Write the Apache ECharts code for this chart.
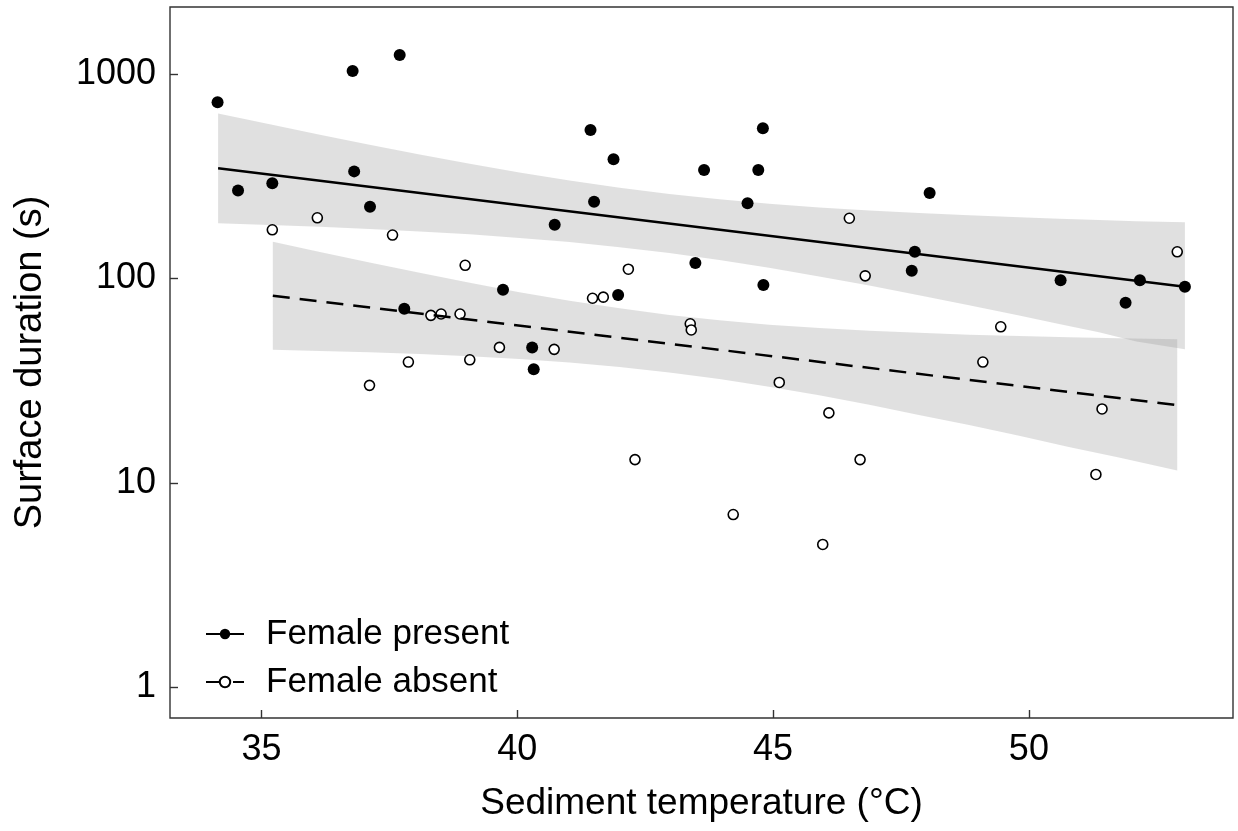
<!DOCTYPE html>
<html><head><meta charset="utf-8">
<script src="https://cdn.jsdelivr.net/npm/echarts@6/dist/echarts.min.js"></script>
<style>html,body{margin:0;padding:0;background:#fff}#chart{width:1238px;height:831px}</style>
</head><body><div id="chart"></div>
<script>
// Tick labels
const xTicks = [35, 40, 45, 50];
const yTicks = [1, 10, 100, 1000];

// Female present (filled points)
const presentX = [34.14, 34.54, 35.21, 36.78, 36.81, 37.12, 37.70, 37.79, 39.72, 40.29, 40.32, 40.73, 41.43, 41.50, 41.88, 41.97, 43.48, 43.65, 44.50, 44.71, 44.80, 44.81, 47.71, 47.77, 48.06, 50.62, 51.89, 52.17, 53.05];
const presentY = [727, 269, 292, 1034, 334, 224, 1239, 71, 88, 46, 36, 183, 532, 237, 383, 83, 119, 339, 233, 339, 543, 93, 109, 135, 262, 98, 76, 98, 91];

// Female absent (open points)
const absentX = [35.21, 36.09, 37.11, 37.56, 37.87, 38.31, 38.51, 38.88, 38.98, 39.07, 39.65, 40.72, 41.47, 41.68, 42.17, 42.30, 43.38, 43.40, 44.22, 45.12, 45.97, 46.09, 46.49, 46.70, 46.80, 49.10, 49.45, 51.31, 51.43, 52.90];
const absentY = [173, 198, 30, 163, 39, 66, 67, 67, 116, 40, 46, 45, 80, 81, 111, 13, 60, 56, 7, 31, 5, 22, 197, 13, 103, 39, 58, 11, 23, 135];

// Fitted lines
const presentFitX = [34.15, 53.05];
const presentFitY = [345.8, 91.1];
const absentFitX = [35.22, 52.90];
const absentFitY = [82.3, 24.0];

// Confidence bands
const presentBandX  = [34.15, 35.16, 36.14, 37.11, 38.09, 39.07, 40.04, 41.02, 42.00, 42.97, 43.95, 44.92, 45.90, 46.88, 47.85, 48.83, 49.81, 50.59, 51.37, 52.10, 53.05];
const presentBandLo = [186.4, 182.8, 178.9, 174.7, 169.8, 164.3, 157.9, 150.7, 142.3, 133.1, 123.1, 112.7, 102.3, 92.3, 82.8, 73.9, 65.9, 59.9, 54.5, 49.1, 45.0];
const presentBandHi = [641.5, 567.3, 505.0, 450.7, 403.9, 363.6, 329.5, 301.0, 277.6, 258.7, 243.8, 231.9, 222.5, 215.0, 208.9, 203.6, 199.3, 196.1, 193.2, 190.4, 188.5];
const absentBandX  = [35.22, 36.14, 37.11, 38.09, 39.07, 40.04, 41.02, 42.00, 42.97, 43.95, 44.92, 45.90, 46.88, 47.85, 48.83, 49.81, 50.78, 51.76, 52.90];
const absentBandLo = [44.8, 44.2, 43.5, 42.7, 41.6, 40.4, 38.8, 36.9, 34.7, 32.2, 29.5, 26.8, 24.1, 21.5, 19.2, 17.0, 15.0, 13.3, 11.5];
const absentBandHi = [151.2, 134.7, 119.6, 106.5, 95.2, 85.7, 77.8, 71.4, 66.3, 62.4, 59.4, 57.2, 55.5, 54.2, 53.1, 52.3, 51.6, 51.0, 50.4];

const FONT = "'Liberation Sans', Arial, Helvetica, sans-serif";
const zip = (a, b) => a.map((v, i) => [v, b[i]]);

function bandSeries(name, xs, lo, hi) {
  return {
    type: 'custom', name: name, z: 1, silent: true,
    data: xs.map((x, i) => [x, lo[i], hi[i]]),
    encode: { x: 0, y: [1, 2] },
    renderItem: function (params, api) {
      if (params.dataIndex !== 0) return null;
      const pts = [];
      for (let i = 0; i < xs.length; i++) pts.push(api.coord([xs[i], hi[i]]));
      for (let i = xs.length - 1; i >= 0; i--) pts.push(api.coord([xs[i], lo[i]]));
      return { type: 'polygon', shape: { points: pts }, style: { fill: 'rgba(153,153,153,0.3)', stroke: null } };
    }
  };
}

const chart = echarts.init(document.getElementById('chart'), null, { renderer: 'canvas' });
chart.setOption({
  animation: false,
  backgroundColor: '#fff',
  grid: { left: 170, right: 5, top: 7, bottom: 113, show: true, borderColor: '#333', borderWidth: 1.4,
          backgroundColor: 'transparent', containLabel: false, outerBoundsMode: 'none' },
  legend: {
    data: ['Female present', 'Female absent'], orient: 'vertical', left: 205, top: 614, padding: 0,
    itemWidth: 38, itemHeight: 13, itemGap: 8, selectedMode: false,
    textStyle: { fontSize: 35, color: '#000', fontFamily: FONT, lineHeight: 40, padding: [0, 0, 0, 17] }
  },
  xAxis: {
    type: 'value', min: 33.21, max: 53.99,
    name: 'Sediment temperature (°C)', nameLocation: 'middle', nameGap: 67,
    nameTextStyle: { fontSize: 37, color: '#000', fontFamily: FONT },
    axisLine: { show: false },
    axisTick: { show: true, inside: true, length: 8, customValues: xTicks, lineStyle: { color: '#333', width: 1.4 } },
    axisLabel: { customValues: xTicks, fontSize: 36, color: '#000', margin: 14, fontFamily: FONT },
    splitLine: { show: false }
  },
  yAxis: {
    type: 'log', logBase: 10, min: 0.708, max: 2127,
    name: 'Surface duration (s)', nameLocation: 'middle', nameGap: 120,
    nameTextStyle: { fontSize: 38, color: '#000', fontFamily: FONT },
    axisLine: { show: false },
    axisTick: { show: true, inside: true, length: 8, customValues: yTicks, lineStyle: { color: '#333', width: 1.4 } },
    axisLabel: { customValues: yTicks, fontSize: 36, color: '#000', margin: 14, fontFamily: FONT,
                 formatter: v => String(Math.round(v)) },
    splitLine: { show: false }, minorTick: { show: false }
  },
  series: [
    bandSeries('present band', presentBandX, presentBandLo, presentBandHi),
    bandSeries('absent band', absentBandX, absentBandLo, absentBandHi),
    { type: 'scatter', name: 'present points', z: 2, data: zip(presentX, presentY), symbol: 'circle', symbolSize: 12,
      itemStyle: { color: '#000', opacity: 1 } },
    { type: 'scatter', name: 'absent points', z: 2, data: zip(absentX, absentY), symbol: 'circle', symbolSize: 10,
      itemStyle: { color: '#fff', borderColor: '#000', borderWidth: 1.6, opacity: 1 } },
    { type: 'line', name: 'Female present', z: 3, data: zip(presentFitX, presentFitY), showSymbol: false,
      symbol: 'circle', symbolSize: 9, silent: true,
      itemStyle: { color: '#000' }, lineStyle: { color: '#000', width: 2.5, type: 'solid' } },
    { type: 'line', name: 'Female absent', z: 3, data: zip(absentFitX, absentFitY), showSymbol: false,
      symbol: 'circle', symbolSize: 9, silent: true,
      itemStyle: { color: '#fff', borderColor: '#000', borderWidth: 1.5 },
      lineStyle: { color: '#000', width: 2.5, type: [17, 10] } }
  ]
});
</script></body></html>
